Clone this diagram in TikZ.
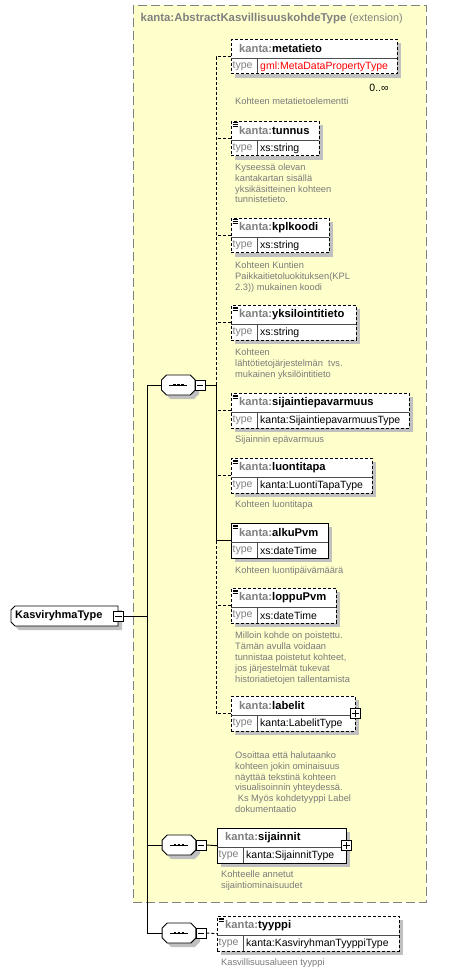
\documentclass[tikz,border=0pt]{standalone}
\usepackage{fontspec}
\setmainfont{Liberation Sans}
\usetikzlibrary{shadows}
\definecolor{extfill}{HTML}{FFFFCC}
\definecolor{extline}{HTML}{808080}
\definecolor{shdc}{HTML}{C0C0C0}
\definecolor{kgray}{HTML}{808080}
\definecolor{dgray}{HTML}{7A7A7A}
\tikzset{
 shd/.style={drop shadow={shadow xshift=4pt, shadow yshift=-4pt, fill=shdc, opacity=1}},
 elbox/.style={draw=black, fill=white, rectangle, inner sep=0pt, anchor=north west, shd, line width=0.9pt},
 optline/.style={dash pattern=on 3pt off 2pt},
 hdr/.style={anchor=west, inner sep=0pt, font=\fontsize{11.2}{13}\selectfont\bfseries},
 typ/.style={anchor=west, inner sep=0pt, font=\fontsize{10.5}{12}\selectfont},
 desc/.style={anchor=north west, inner sep=0pt, align=left, text=dgray, font=\fontsize{9.3}{10.8}\selectfont},
 seqbox/.style={draw=none, minimum width=33.7pt, minimum height=20pt, inner sep=0pt, rectangle},
 pm/.style={draw, fill=white, minimum size=10pt, inner sep=0pt, rectangle, line width=0.9pt},
 conn/.style={line width=0.9pt},
}
\newcommand\xel[8]{%
 \node[elbox,#2,minimum width=#5-#3,minimum height=34.5] (#1) at (#3,#4) {};
 \draw[line width=0.6pt, black!70] (#3,#4+19.5) -- (#5,#4+19.5) (#3+26,#4+19.5) -- (#3+26,#4+34.5);
 \node[hdr] (#1-name) at (#3+8,#4+9.5) {\textcolor{kgray}{kanta:}#6};
 \node[typ,text=kgray] (#1-tlab) at (#3+1.5,#4+27.5) {type};
 \node[typ] (#1-type) at (#3+29,#4+27.5) {#7};
 \ifnum#8=1
 \draw[line width=0.6pt] (#3+1.5,#4+1.8) -- (#3+6.5,#4+1.8) (#3+1.5,#4+3.6) -- (#3+6.5,#4+3.6) (#3+1.5,#4+5.4) -- (#3+6.5,#4+5.4);
 \fi
}
\newcommand\octa[2]{(#1-11.85,#2-10) -- (#1+11.85,#2-10) -- (#1+16.85,#2-5) -- (#1+16.85,#2+5) -- (#1+11.85,#2+10) -- (#1-11.85,#2+10) -- (#1-16.85,#2+5) -- (#1-16.85,#2-5) -- cycle}
\newcommand\seqgrp[3]{%
 \node[seqbox] (#1) at (#2,#3) {};
 \fill[shdc] \octa{#2+4}{#3+4};
 \draw[fill=white, line width=0.9pt] \octa{#2}{#3};
 \draw[line width=0.9pt] (#2-9,#3) -- (#2+9,#3);
 \foreach \d in {-4,0,4} \fill (#2+\d-1.4,#3-1.4) rectangle (#2+\d+1.4,#3+1.4);
 \node[pm] (#1m) at (#2+22,#3) {};
 \draw[line width=0.9pt] (#2+19,#3) -- (#2+25,#3);
}
\begin{document}
\begin{tikzpicture}[x=1pt,y=-1pt]
\useasboundingbox (0,0) rectangle (455,973);
\fill[white] (0,0) rectangle (455,973);
% extension container
\draw[extline, line width=0.9pt, dash pattern=on 9pt off 4pt, fill=extfill] (133,5) rectangle (426,902);
\node[anchor=west, inner sep=0pt, text=kgray, font=\fontsize{10.8}{13}\selectfont] (title) at (140.5,19) {{\fontsize{11.4}{13}\selectfont\bfseries kanta:AbstractKasvillisuuskohdeType} (extension)};

% elements
\xel{meta}{optline}{231}{39}{397}{metatieto}{\textcolor{red}{gml:MetaDataPropertyType}}{0}
\node[inner sep=0pt, font=\fontsize{10.5}{12}\selectfont] (metaocc) at (379,87.5) {0..∞};
\node[desc] (meta-d) at (235,97.5) {Kohteen metatietoelementti};

\xel{tunnus}{optline}{231}{121}{319}{tunnus}{xs:string}{1}
\node[desc] (tunnus-d) at (235,163.5) {Kyseessä olevan\\kantakartan sisällä\\yksikäsitteinen kohteen\\tunnistetieto.};

\xel{kpl}{optline}{231}{218}{329}{kplkoodi}{xs:string}{1}
\node[desc] (kpl-d) at (235,262) {Kohteen Kuntien\\Paikkaitietoluokituksen(KPL\\2.3)) mukainen koodi};

\xel{yks}{optline}{231}{305}{356}{yksilointitieto}{xs:string}{1}
\node[desc] (yks-d) at (235,349) {Kohteen\\lähtötietojärjestelmän\ \ tvs.\\mukainen yksilöintitieto};

\xel{sij}{optline}{231}{393}{409}{sijaintiepavarmuus}{kanta:SijaintiepavarmuusType}{1}
\node[desc] (sij-d) at (235,436) {Sijainnin epävarmuus};

\xel{luo}{optline}{231}{458}{372}{luontitapa}{kanta:LuontiTapaType}{1}
\node[desc] (luo-d) at (235,500.5) {Kohteen luontitapa};

\xel{alku}{solid}{231}{523}{328}{alkuPvm}{xs:dateTime}{1}
\node[desc] (alku-d) at (235,566.5) {Kohteen luontipäivämäärä};

\xel{loppu}{optline}{231}{588}{336}{loppuPvm}{xs:dateTime}{1}
\node[desc] (loppu-d) at (235,632) {Milloin kohde on poistettu.\\Tämän avulla voidaan\\tunnistaa poistetut kohteet,\\jos järjestelmät tukevat\\historiatietojen tallentamista};

\xel{lab}{optline}{231}{696}{355}{labelit}{kanta:LabelitType}{0}
\node[pm] (lab-p) at (lab.east) {};
\draw[line width=0.9pt] ([xshift=2pt]lab-p.west) -- ([xshift=-2pt]lab-p.east) ([yshift=2pt]lab-p.south) -- ([yshift=-2pt]lab-p.north);
\node[desc] (lab-d) at (235,751.5) {Osoittaa että halutaanko\\kohteen jokin ominaisuus\\näyttää tekstinä kohteen\\visualisoinnin yhteydessä.\\\hspace*{2.6pt}Ks Myös kohdetyyppi Label\\dokumentaatio};

\xel{sijn}{solid}{217}{828}{346}{sijainnit}{kanta:SijainnitType}{0}
\node[pm] (sijn-p) at (sijn.east) {};
\draw[line width=0.9pt] ([xshift=2pt]sijn-p.west) -- ([xshift=-2pt]sijn-p.east) ([yshift=2pt]sijn-p.south) -- ([yshift=-2pt]sijn-p.north);
\node[desc] (sijn-d) at (221,871) {Kohteelle annetut\\sijaintiominaisuudet};

\xel{tyyppi}{optline}{217}{916}{399}{tyyppi}{kanta:KasviryhmanTyyppiType}{1}
\node[desc] (tyyppi-d) at (221,959) {Kasvillisuusalueen tyyppi};

% sequences
\seqgrp{seqa}{178.3}{385}
\seqgrp{seqb}{179}{845}
\seqgrp{seqc}{179}{933}

% root
\fill[shdc] (19,610) -- (122,610) -- (122,630) -- (19,630) -- (15,626) -- (15,614) -- cycle;
\draw[fill=white, line width=0.9pt] (15,606) -- (118,606) -- (118,626) -- (15,626) -- (11,622) -- (11,610) -- cycle;
\node[draw=none, minimum width=107pt, minimum height=20pt, inner sep=0pt] (root) at (64.5,616) {};
\node[anchor=west, inner sep=0pt, font=\fontsize{11}{13}\selectfont\bfseries] (root-t) at (15,616) {KasviryhmaType};
\node[pm] (rootm) at (118.5,616) {};
\draw[line width=0.9pt] ([xshift=2pt]rootm.west) -- ([xshift=-2pt]rootm.east);

% connectors
\coordinate (mv1) at (147,385);
\coordinate (mv3) at (147,933);
\coordinate (sp1) at (216,385);
\draw[conn] (mv1) -- (mv3);
\draw[conn] (rootm.east) -- (rootm.east -| mv1);
\draw[conn] (seqa.west) -- (mv1);
\draw[conn] (seqb.west) -- (seqb.west -| mv1);
\draw[conn] (seqc.west) -- (mv3);
\draw[conn] (seqam.east) -- (sp1);
\draw[conn,optline] (meta.west) -| (sp1);
\draw[conn,optline] (tunnus.west) -- (tunnus.west -| sp1);
\draw[conn,optline] (kpl.west) -- (kpl.west -| sp1);
\draw[conn,optline] (yks.west) -- (yks.west -| sp1);
\draw[conn,optline] (sij.west) -- (sij.west -| sp1);
\draw[conn,optline] (luo.west) -- (luo.west -| sp1);
\draw[conn] (sp1) |- (alku.west);
\draw[conn,optline] (alku.west -| sp1) |- (lab.west);
\draw[conn,optline] (loppu.west) -- (loppu.west -| sp1);
\draw[conn] (seqbm.east) -- (sijn.west);
\draw[conn,optline] (seqcm.east) -- (tyyppi.west);
\end{tikzpicture}
\end{document}
